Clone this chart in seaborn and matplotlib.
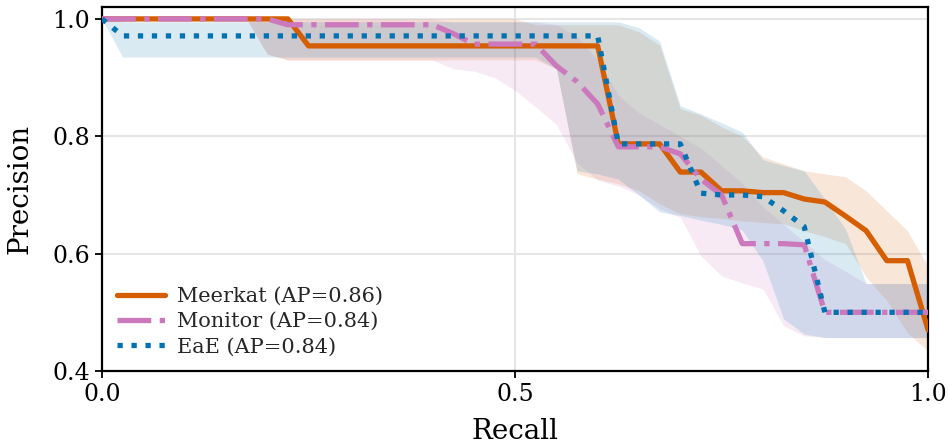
import numpy as np
import pandas as pd
import matplotlib
matplotlib.use("Agg")
import matplotlib.pyplot as plt
import seaborn as sns

# ---------------- data ----------------
recall = [0.0, 0.025, 0.05, 0.075, 0.1, 0.125, 0.15, 0.175, 0.2, 0.225,
          0.25, 0.275, 0.3, 0.325, 0.35, 0.375, 0.4, 0.425, 0.45, 0.475,
          0.5, 0.525, 0.55, 0.575, 0.6, 0.625, 0.65, 0.675, 0.7, 0.725,
          0.75, 0.775, 0.8, 0.825, 0.85, 0.875, 0.9, 0.925, 0.95, 0.975, 1.0]

methods = ["Meerkat (AP=0.86)", "Monitor (AP=0.84)", "EaE (AP=0.84)"]

meerkat_prec = [1.0, 1.0, 1.0, 1.0, 1.0, 1.0, 1.0, 1.0, 1.0, 1.0,
                0.954, 0.954, 0.954, 0.954, 0.954, 0.954, 0.954, 0.954, 0.954, 0.954,
                0.954, 0.954, 0.954, 0.954, 0.954, 0.787, 0.787, 0.787, 0.739, 0.739,
                0.707, 0.707, 0.704, 0.704, 0.693, 0.688, 0.664, 0.639, 0.588, 0.588, 0.47]
meerkat_lo = [1.0, 1.0, 1.0, 1.0, 1.0, 1.0, 1.0, 1.0, 0.94, 0.93,
              0.93, 0.93, 0.93, 0.93, 0.93, 0.93, 0.93, 0.93, 0.93, 0.93,
              0.93, 0.93, 0.915, 0.736, 0.727, 0.719, 0.707, 0.685, 0.668, 0.663,
              0.66, 0.656, 0.653, 0.651, 0.639, 0.629, 0.617, 0.56, 0.52, 0.465, 0.434]
meerkat_hi = [1.0, 1.0, 1.0, 1.0, 1.0, 1.0, 1.0, 1.0, 1.0, 1.0,
              1.0, 1.0, 1.0, 1.0, 1.0, 1.0, 1.0, 1.0, 1.0, 1.0,
              1.0, 0.99, 0.99, 0.99, 0.99, 0.99, 0.978, 0.955, 0.847, 0.836,
              0.816, 0.80, 0.765, 0.753, 0.741, 0.736, 0.731, 0.707, 0.673, 0.639, 0.578]

monitor_prec = [1.0, 1.0, 1.0, 1.0, 1.0, 1.0, 1.0, 1.0, 1.0, 0.99,
                0.99, 0.99, 0.99, 0.99, 0.99, 0.99, 0.99, 0.975, 0.957, 0.957,
                0.957, 0.957, 0.92, 0.893, 0.855, 0.782, 0.782, 0.782, 0.77, 0.727,
                0.70, 0.617, 0.617, 0.617, 0.615, 0.50, 0.50, 0.50, 0.50, 0.50, 0.50]
monitor_lo = [1.0, 1.0, 1.0, 1.0, 1.0, 1.0, 1.0, 1.0, 0.94, 0.93,
              0.93, 0.93, 0.93, 0.93, 0.93, 0.93, 0.93, 0.915, 0.911, 0.90,
              0.878, 0.85, 0.82, 0.755, 0.725, 0.715, 0.70, 0.676, 0.662, 0.596,
              0.562, 0.55, 0.54, 0.477, 0.46, 0.457, 0.457, 0.457, 0.457, 0.457, 0.457]
monitor_hi = [1.0, 1.0, 1.0, 1.0, 1.0, 1.0, 1.0, 1.0, 1.0, 1.0,
              1.0, 1.0, 1.0, 1.0, 1.0, 1.0, 1.0, 0.995, 0.995, 0.995,
              0.995, 0.995, 0.99, 0.97, 0.93, 0.87, 0.84, 0.82, 0.80, 0.78,
              0.75, 0.72, 0.68, 0.65, 0.62, 0.59, 0.57, 0.549, 0.549, 0.549, 0.549]

eae_prec = [1.0, 0.971, 0.971, 0.971, 0.971, 0.971, 0.971, 0.971, 0.971, 0.971,
            0.971, 0.971, 0.971, 0.971, 0.971, 0.971, 0.971, 0.971, 0.971, 0.971,
            0.971, 0.971, 0.971, 0.971, 0.971, 0.787, 0.787, 0.787, 0.787, 0.703,
            0.70, 0.70, 0.697, 0.673, 0.646, 0.50, 0.50, 0.50, 0.50, 0.50, 0.50]
eae_lo = [1.0, 0.935, 0.935, 0.935, 0.935, 0.935, 0.935, 0.935, 0.935, 0.935,
          0.935, 0.935, 0.935, 0.935, 0.935, 0.935, 0.935, 0.935, 0.935, 0.935,
          0.935, 0.935, 0.915, 0.741, 0.736, 0.727, 0.70, 0.671, 0.665, 0.657,
          0.65, 0.64, 0.588, 0.489, 0.463, 0.457, 0.457, 0.457, 0.457, 0.457, 0.457]
eae_hi = [1.0, 0.995, 0.995, 0.995, 0.995, 0.995, 0.995, 0.995, 0.995, 0.995,
          0.995, 0.995, 0.995, 0.995, 0.995, 0.995, 0.995, 0.995, 0.995, 0.995,
          0.995, 0.995, 0.995, 0.995, 0.995, 0.995, 0.985, 0.962, 0.852, 0.838,
          0.823, 0.807, 0.76, 0.75, 0.741, 0.693, 0.642, 0.549, 0.549, 0.549, 0.549]

# ---------------- style ----------------
sns.set_theme(style="whitegrid")
plt.rcParams["font.family"] = ["DejaVu Serif"]

pal = sns.color_palette("colorblind")
colors = {methods[0]: pal[3], methods[1]: pal[4], methods[2]: pal[0]}
dashes = {methods[0]: "", methods[1]: (6.4, 1.6, 1, 1.6), methods[2]: (1, 1.65)}

df = pd.concat([
    pd.DataFrame({"Recall": recall, "Precision": meerkat_prec, "Method": methods[0]}),
    pd.DataFrame({"Recall": recall, "Precision": monitor_prec, "Method": methods[1]}),
    pd.DataFrame({"Recall": recall, "Precision": eae_prec, "Method": methods[2]}),
], ignore_index=True)

bands = [(methods[0], meerkat_lo, meerkat_hi),
         (methods[1], monitor_lo, monitor_hi),
         (methods[2], eae_lo, eae_hi)]

fig, ax = plt.subplots(figsize=(9.49, 4.47), dpi=100)
fig.subplots_adjust(left=0.1075, right=0.978, top=0.984, bottom=0.170)

for name, lo, hi in bands:
    ax.fill_between(recall, lo, hi, color=colors[name], alpha=0.15, linewidth=0, zorder=1)

sns.lineplot(data=df, x="Recall", y="Precision", hue="Method", style="Method",
             hue_order=methods, style_order=methods, palette=colors, dashes=dashes,
             linewidth=3.8, estimator=None, sort=False, ax=ax, zorder=3)

ax.set_xlim(0, 1.0)
ax.set_ylim(0.4, 1.02)
ax.set_xticks([0.0, 0.5, 1.0])
ax.set_yticks([0.4, 0.6, 0.8, 1.0])
ax.grid(True, color="#e6e6e6", linewidth=1.5)
ax.set_axisbelow(True)
for s in ax.spines.values():
    s.set_color("black")
    s.set_linewidth(1.6)
ax.tick_params(axis="both", which="major", length=5, width=1.3, color="black",
               labelsize=17, labelcolor="black", bottom=True, left=True, direction="out")
ax.set_xlabel("Recall", fontsize=20, labelpad=9, color="black")
ax.set_ylabel("Precision", fontsize=20, labelpad=14, color="black")

old = ax.get_legend()
handles = old.legend_handles
labels = [t.get_text() for t in old.texts]
old.remove()
for h in handles:
    h.set_linewidth(3.8)
ax.legend(handles, labels, loc="lower left", frameon=False, fontsize=15,
          handlelength=2.3, handletextpad=0.6, labelspacing=0.3,
          borderaxespad=0.3, bbox_to_anchor=(0.0, 0.0))

fig.savefig("out.png", dpi=100)
